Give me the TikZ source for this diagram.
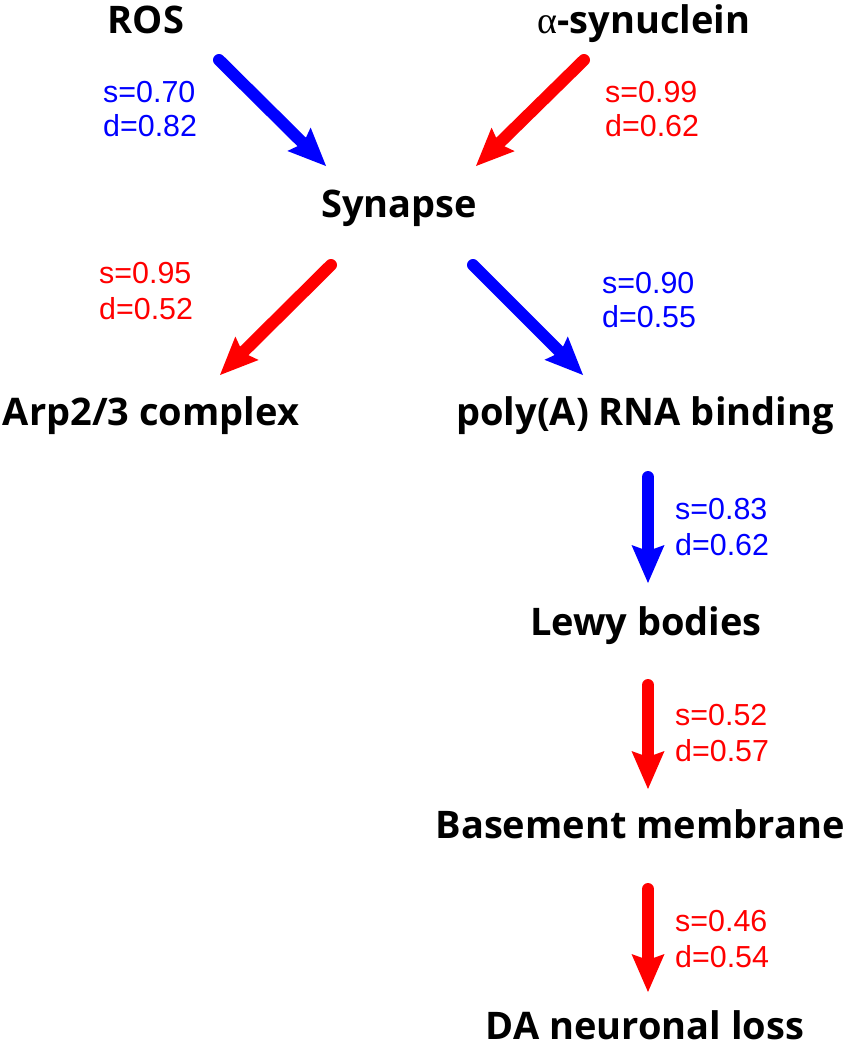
\documentclass[tikz,border=0pt]{standalone}
\usepackage{fontspec}
\setmainfont{Liberation Sans}
\newfontfamily\nodefont{Open Sans}
\newfontfamily\greekfont{Liberation Serif}
\usetikzlibrary{arrows.meta}
\definecolor{myblue}{RGB}{0,0,255}
\definecolor{myred}{RGB}{255,0,0}
\tikzset{
  term/.style={font=\nodefont\bfseries\fontsize{38}{42}\selectfont, inner sep=0pt, anchor=base},
  val/.style={font=\fontsize{30.4}{34}\selectfont, inner sep=0pt, anchor=base west},
  link/.style={line width=12pt, line cap=round,
    -{Stealth[length=38pt,width=33pt,inset=6pt,line width=0pt]}},
  poslink/.style={link, draw=myblue, fill=myblue},
  neglink/.style={link, draw=myred, fill=myred},
}
\begin{document}
\begin{tikzpicture}[x=1pt,y=-1pt]
\useasboundingbox (0,0) rectangle (844,1050);
% terms
\node[term] (ros) at (146,33) {ROS};
\node[term] (asyn) at (644,33) {{\greekfont\mdseries α}-synuclein};
\node[term] (syn) at (399,217) {Synapse};
\node[term] (arp) at (151,425) {Arp2/3 complex};
\node[term] (poly) at (645,425) {poly(A) RNA binding};
\node[term] (lewy) at (646,635) {Lewy bodies};
\node[term] (base) at (640,838) {Basement membrane};
\node[term] (da) at (645,1039) {DA neuronal loss};
% arrow ends
\coordinate (a1s) at (219,60);  \coordinate (a1e) at (326,166);
\coordinate (a2s) at (584,60);  \coordinate (a2e) at (476,166);
\coordinate (a3s) at (331,265); \coordinate (a3e) at (220,375);
\coordinate (a4s) at (473,265); \coordinate (a4e) at (583,375);
\coordinate (a5s) at (648,477); \coordinate (a5e) at (648,583);
\coordinate (a6s) at (648,685); \coordinate (a6e) at (648,789);
\coordinate (a7s) at (648,889); \coordinate (a7e) at (648,992);
\draw[poslink] (a1s) -- (a1e);
\draw[neglink] (a2s) -- (a2e);
\draw[neglink] (a3s) -- (a3e);
\draw[poslink] (a4s) -- (a4e);
\draw[poslink] (a5s) -- (a5e);
\draw[neglink] (a6s) -- (a6e);
\draw[neglink] (a7s) -- (a7e);
% values
\node[val, text=myblue] (v1s) at (103,102) {s=0.70};
\node[val, text=myblue] (v1d) at (103,136) {d=0.82};
\node[val, text=myred] (v2s) at (605,102) {s=0.99};
\node[val, text=myred] (v2d) at (605,136) {d=0.62};
\node[val, text=myred] (v3s) at (99,283) {s=0.95};
\node[val, text=myred] (v3d) at (99,319) {d=0.52};
\node[val, text=myblue] (v4s) at (602,293) {s=0.90};
\node[val, text=myblue] (v4d) at (602,327) {d=0.55};
\node[val, text=myblue] (v5s) at (675,519) {s=0.83};
\node[val, text=myblue] (v5d) at (675,555) {d=0.62};
\node[val, text=myred] (v6s) at (675,725) {s=0.52};
\node[val, text=myred] (v6d) at (675,761) {d=0.57};
\node[val, text=myred] (v7s) at (675,931) {s=0.46};
\node[val, text=myred] (v7d) at (675,967) {d=0.54};
\end{tikzpicture}
\end{document}
